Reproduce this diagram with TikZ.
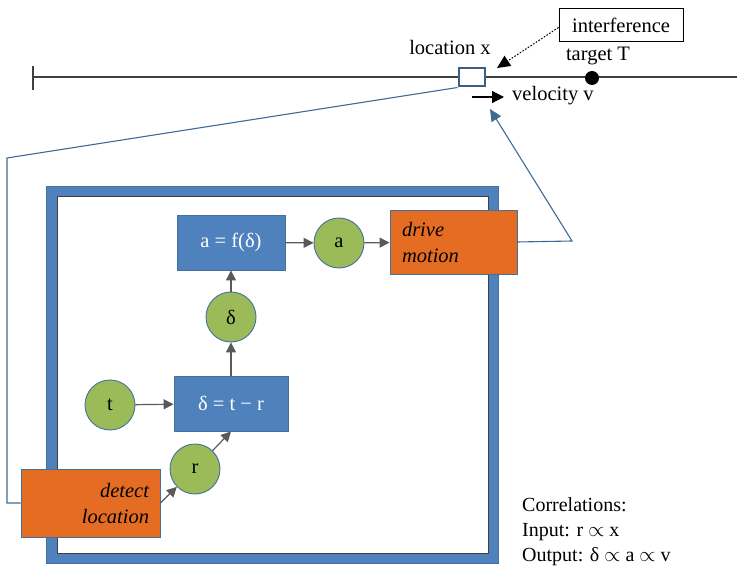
\documentclass[tikz,border=0pt]{standalone}
\usepackage{fontspec}
\setmainfont{Liberation Serif}
\usetikzlibrary{arrows.meta}
\definecolor{boxblue}{HTML}{4F81BD}
\definecolor{edgeblue}{HTML}{41719C}
\definecolor{connblue}{HTML}{3E6A96}
\definecolor{circgreen}{HTML}{9BBB59}
\definecolor{orng}{HTML}{E46C23}
\definecolor{sqedge}{HTML}{3F5F80}
\definecolor{arrgray}{HTML}{595959}
\definecolor{linegray}{HTML}{404040}
\begin{document}
\begin{tikzpicture}[x=1pt,y=-1pt,
  font=\fontsize{20.5}{26}\selectfont,
  bbox/.style={draw=edgeblue, fill=boxblue, text=white, inner sep=0pt, line width=0.9pt},
  obox/.style={draw=edgeblue, fill=orng, text=black, line width=0.9pt, font=\fontsize{20.5}{26}\selectfont\itshape},
  gcirc/.style={circle, draw=edgeblue, fill=circgreen, line width=0.9pt, minimum size=50pt, inner sep=0pt},
  arr/.style={draw=arrgray, line width=1.2pt, -{Triangle[length=10pt,width=10pt]}},
  conn/.style={draw=connblue, line width=1.1pt},
  lbl/.style={inner sep=0pt},
  corr/.style={inner sep=0pt, anchor=base west, font=\fontsize{20}{24}\selectfont}
]
\useasboundingbox (0,0) rectangle (737,567);

% axis line
\draw[linegray, line width=1.3pt] (33,77) -- (737,77);
\draw[linegray, line width=1.3pt] (33,66) -- (33,90);

% frame
\draw[boxblue, line width=10.5pt] (51.5,191) rectangle (493,558);
\draw[edgeblue, line width=0.6pt] (46,186) rectangle (498.5,563.5);
\draw[linegray, line width=1pt] (57,196.5) rectangle (488,553);

% location marker and target
\node[draw=sqedge, fill=white, line width=2pt, minimum width=26pt, minimum height=18pt, inner sep=0pt] (sq) at (471.5,77.5) {};
\fill[black] (592,78) circle (7pt);
\node[lbl] (locx) at (450,47) {location x};
\node[lbl] (tgt) at (598,56) {target T};
\node[draw=black, line width=1pt, minimum width=124pt, minimum height=33pt, inner sep=0pt] (intf) at (621,25.5) {interference};
\coordinate (iend) at (497,68);
\draw[black, line width=1pt, dash pattern=on 1.6pt off 1.6pt, -{Triangle[length=13pt,width=12pt]}] (intf.west) ++(0,2) -- (iend);

% velocity
\coordinate (v1) at (472,97);
\coordinate (v2) at (504,97);
\draw[black, line width=1.3pt, -{Triangle[length=12pt,width=12pt]}] (v1) -- (v2);
\node[lbl, anchor=west] (vel) at (512,96) {velocity v};

% inner nodes
\node[bbox, minimum width=108pt, minimum height=55pt] (af) at (231,242.5) {a = f(δ)};
\node[gcirc] (a) at (339,243) {a};
\node[obox, minimum width=127pt, minimum height=64pt, inner xsep=12pt, inner ysep=0pt, text width=103pt, align=left] (drv) at (453.5,242) {drive\\motion};
\node[gcirc] (d) at (231,317) {δ};
\node[bbox, minimum width=114pt, minimum height=55pt] (dtr) at (231,403.5) {δ = t − r};
\node[gcirc] (t) at (110,405) {t};
\node[gcirc] (r) at (195,469) {r};
\node[obox, minimum width=139pt, minimum height=68pt, inner xsep=11pt, inner ysep=0pt, text width=117pt, align=right] (det) at (90.5,503) {detect\\location};

% inner arrows
\draw[arr] (af) -- (a);
\draw[arr] (a) -- (drv);
\draw[arr] (d) -- (af);
\draw[arr] (dtr) -- (d);
\draw[arr] (t) -- (dtr);
\draw[arr] (r) -- (dtr.south);
\draw[arr] (det.east) -- (r);

% feedback connectors
\coordinate (c1) at (7,158);
\coordinate (c2) at (7,503);
\draw[conn] (sq.south west) -- (c1) -- (c2) -- (det.west);
\coordinate (c3) at (572,241);
\coordinate (c4) at (490,109);
\draw[conn, -{Triangle[length=12pt,width=11pt]}] (drv.east) -- (c3) -- (c4);

% correlations
\node[corr] (cor1) at (522,511) {Correlations:};
\node[corr] (cor2) at (522,536) {Input: r $\propto$ x};
\node[corr] (cor3) at (522,561) {Output: δ $\propto$ a $\propto$ v};
\end{tikzpicture}
\end{document}
